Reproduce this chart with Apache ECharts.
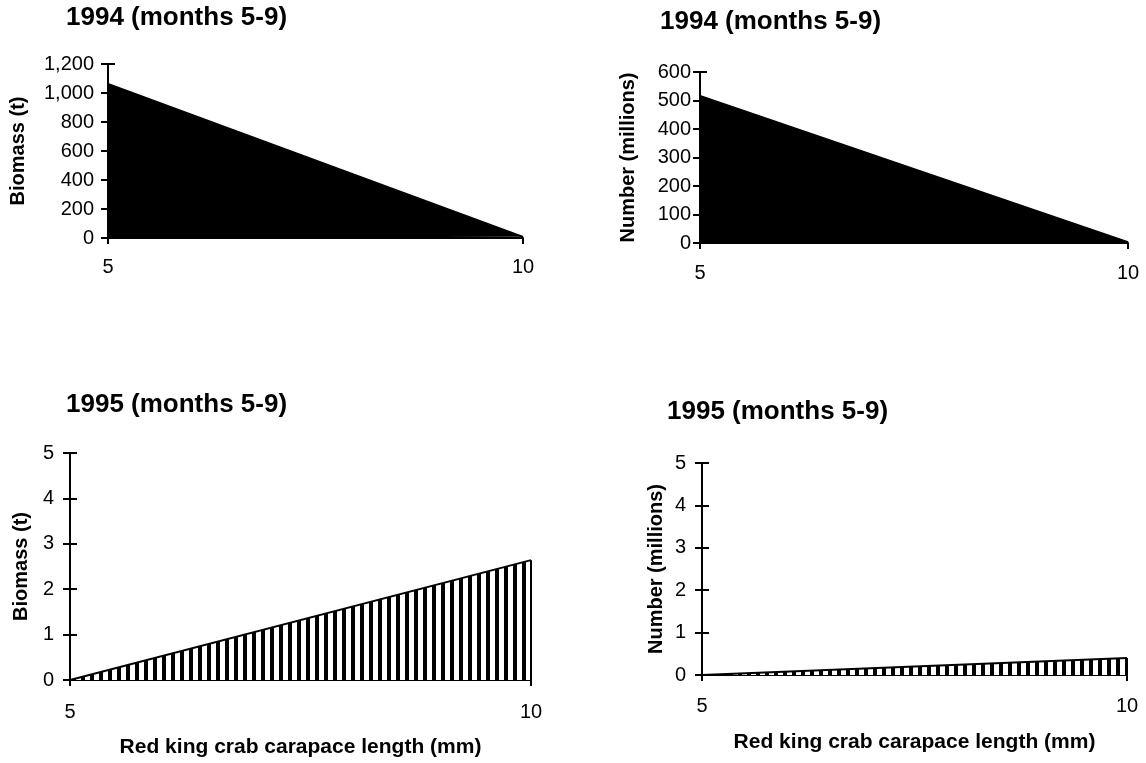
<!DOCTYPE html>
<html>
<head>
<meta charset="utf-8">
<script src="https://cdn.jsdelivr.net/npm/echarts@6/dist/echarts.min.js"></script>
<style>
html,body{margin:0;padding:0;background:#fff;}
#c{width:1146px;height:763px;}
</style>
</head>
<body>
<div id="c"></div>
<script>
// ---- data ----
const carapaceLength = [5, 10];             // mm
const biomass1994 = [1062, 8];              // t
const number1994 = [516, 3];                // millions
const biomass1995 = [0, 2.64];              // t
const number1995 = [0, 0.4];                // millions
const xTickLabels = ['5', '10'];
const titles = ['1994 (months 5-9)', '1994 (months 5-9)', '1995 (months 5-9)', '1995 (months 5-9)'];
const yNames = ['Biomass (t)', 'Number (millions)', 'Biomass (t)', 'Number (millions)'];
const xName = 'Red king crab carapace length (mm)';

// ---- style ----
const FONT = '"Liberation Sans", Arial, Helvetica, sans-serif';
function hatch() {
  const c = document.createElement('canvas');
  c.width = 9; c.height = 9;
  const g = c.getContext('2d');
  g.fillStyle = '#fff'; g.fillRect(0, 0, 9, 9);
  g.fillStyle = '#000'; g.fillRect(0, 0, 4, 9);
  return c;
}
const hatchPattern = { image: hatch(), repeat: 'repeat' };

const grids = [
  { left: 108, top: 64, width: 415, height: 174 },
  { left: 700, top: 72, width: 428, height: 171 },
  { left: 70, top: 453, width: 461, height: 227 },
  { left: 702, top: 463, width: 425, height: 212 }
];
const yCfg = [
  { max: 1200, interval: 200, margin: 14, nameGap: 80 },
  { max: 600, interval: 100, margin: 9, nameGap: 62 },
  { max: 5, interval: 1, margin: 16, nameGap: 39 },
  { max: 5, interval: 1, margin: 16, nameGap: 36 }
];
const xCfg = [
  { margin: 19, name: '' },
  { margin: 20, name: '' },
  { margin: 22, name: xName },
  { margin: 21, name: xName }
];
const titlePos = [
  { left: 66, top: 5 },
  { left: 660, top: 9 },
  { left: 66, top: 392 },
  { left: 667, top: 399 }
];
const seriesData = [biomass1994, number1994, biomass1995, number1995];
const fills = ['#000', '#000', hatchPattern, hatchPattern];

const fmt = v => Number(v).toLocaleString('en-US');

const option = {
  backgroundColor: '#fff',
  animation: false,
  textStyle: { fontFamily: FONT, color: '#000' },
  title: titles.map((t, i) => ({
    text: t, left: titlePos[i].left, top: titlePos[i].top, padding: 0,
    textStyle: { fontFamily: FONT, fontWeight: 'bold', fontSize: 26, color: '#000' }
  })),
  grid: grids,
  xAxis: grids.map((g, i) => ({
    type: 'value', gridIndex: i, min: carapaceLength[0], max: carapaceLength[1], interval: 5,
    name: xCfg[i].name, nameLocation: 'middle', nameGap: 57,
    nameTextStyle: { fontFamily: FONT, fontWeight: 'bold', fontSize: 21, color: '#000' },
    axisLine: { show: true, lineStyle: { color: '#000', width: 2 } },
    axisTick: { show: true, length: 6, lineStyle: { color: '#000', width: 2 } },
    axisLabel: { fontFamily: FONT, fontSize: 20, color: '#000', margin: xCfg[i].margin,
      formatter: v => xTickLabels[carapaceLength.indexOf(v)] ?? '' },
    splitLine: { show: false }
  })),
  yAxis: [].concat(
    grids.map((g, i) => ({
      type: 'value', gridIndex: i, min: 0, max: yCfg[i].max, interval: yCfg[i].interval,
      position: 'left', offset: 0,
      name: yNames[i], nameLocation: 'middle', nameGap: yCfg[i].nameGap,
      nameTextStyle: { fontFamily: FONT, fontWeight: 'bold', fontSize: 20, color: '#000' },
      axisLine: { show: true, lineStyle: { color: '#000', width: 2 } },
      axisTick: { show: true, length: 7, lineStyle: { color: '#000', width: 2 } },
      axisLabel: { fontFamily: FONT, fontSize: 20, color: '#000', margin: yCfg[i].margin, formatter: fmt },
      splitLine: { show: false }
    })),
    grids.map((g, i) => ({
      type: 'value', gridIndex: i, min: 0, max: yCfg[i].max, interval: yCfg[i].interval,
      position: 'left', offset: 0,
      axisLine: { show: false },
      axisTick: { show: true, inside: true, length: 7, lineStyle: { color: '#000', width: 2 } },
      axisLabel: { show: false },
      splitLine: { show: false }
    }))
  ),
  series: seriesData.map((vals, i) => ({
    type: 'line', xAxisIndex: i, yAxisIndex: i,
    data: carapaceLength.map((x, k) => [x, vals[k]]),
    symbol: 'none',
    lineStyle: { color: '#000', width: 2 },
    areaStyle: { color: fills[i], opacity: 1, origin: 'start' },
    z: 1,
    markLine: i >= 2 ? {
      silent: true, symbol: 'none', label: { show: false },
      lineStyle: { color: '#000', width: 2, type: 'solid' },
      data: [[{ coord: [carapaceLength[1], 0] }, { coord: [carapaceLength[1], vals[1]] }]]
    } : undefined
  }))
};

const chart = echarts.init(document.getElementById('c'), null, { renderer: 'canvas' });
chart.setOption(option);
</script>
</body>
</html>
